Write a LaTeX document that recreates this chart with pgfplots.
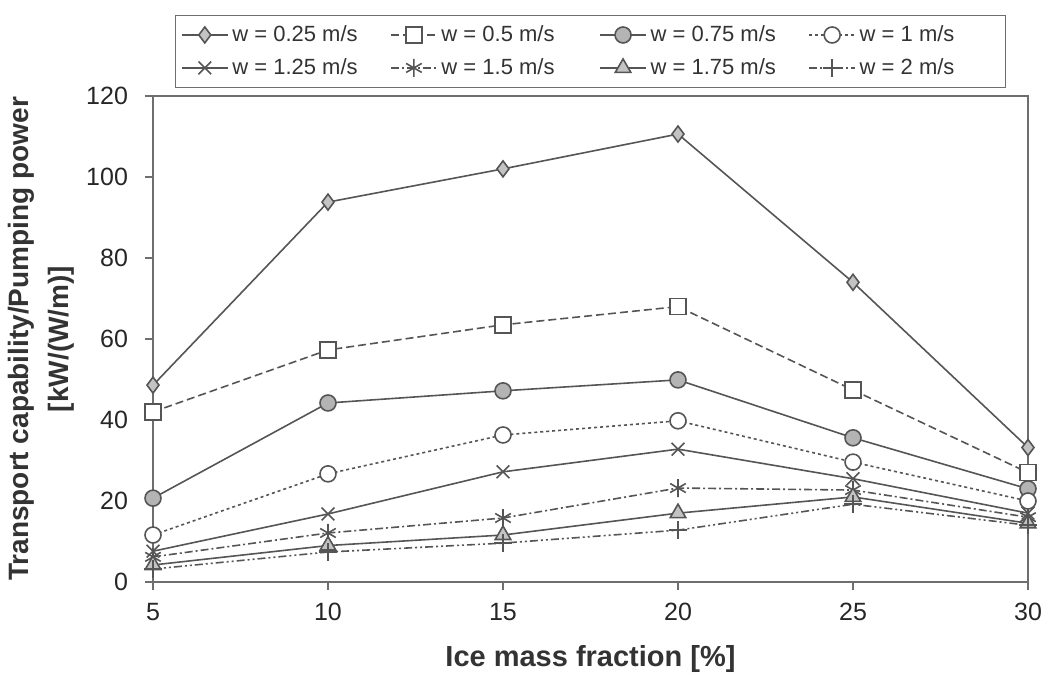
\documentclass[border=0pt]{standalone}
\usepackage{fontspec}
\setmainfont{Liberation Sans}
\usepackage{pgfplots}
\pgfplotsset{compat=1.18}
\definecolor{ln}{RGB}{85,85,85}
\definecolor{ax}{RGB}{110,110,110}
\definecolor{fillA}{RGB}{195,195,195}
\definecolor{fillB}{RGB}{180,180,180}
\begin{document}
\begin{tikzpicture}
\begin{axis}[
  scale only axis,
  width=437.5pt, height=243pt,
  xmin=5, xmax=30, ymin=0, ymax=120,
  xtick={5,10,15,20,25,30},
  ytick={0,20,40,60,80,100,120},
  tick align=outside,
  major tick length=4pt,
  tick style={color=ax, line width=0.8pt},
  axis line style={color=ax, line width=1pt},
  xtick pos=bottom, ytick pos=left,
  ticklabel style={font=\fontsize{12.5}{14}\selectfont, text=black!85},
  xticklabel style={yshift=-3pt},
  yticklabel style={xshift=-5pt},
  /pgf/number format/assume math mode=true,
  xlabel={Ice mass fraction [\%]},
  ylabel={Transport capability/Pumping power\\{}[kW/(W/m)]},
  xlabel style={font=\fontsize{14.5}{17}\selectfont\bfseries, text=black!80, at={(axis description cs:0.5,-0.13)}, anchor=north, inner sep=0pt},
  ylabel style={font=\fontsize{14}{20}\selectfont\bfseries, text=black!80, align=center, at={(axis description cs:-0.089,0.5)}, anchor=south, inner sep=0pt},
  every axis plot/.append style={color=ln, line width=0.8pt},
  legend columns=4,
  legend cell align=left,
  legend image code/.code={\draw[mark repeat=2,mark phase=2,#1] plot coordinates {(0cm,0cm) (0.4cm,0cm) (0.8cm,0cm)};},
  legend style={draw=ax, line width=0.6pt, fill=white, at={(axis description cs:0.5,1)}, anchor=south, yshift=4pt,
    font=\fontsize{11}{12}\selectfont, text=black!80, row sep=3pt, inner sep=3pt,
    /tikz/every even column/.append style={column sep=9pt},
    /tikz/every mark/.append style={scale=0.75}},
]
\addplot[solid, mark=diamond*, mark size=4pt, mark options={solid, fill=fillA, draw=ln}]
  coordinates {(5,48.6) (10,93.8) (15,102) (20,110.6) (25,74) (30,33.2)};
\addlegendentry{\makebox[68pt][l]{w = 0.25 m/s}}
\addplot[dash pattern=on 4pt off 2pt, mark=square*, mark size=4pt, mark options={solid, fill=white, draw=ln}]
  coordinates {(5,42) (10,57.3) (15,63.5) (20,68) (25,47.4) (30,27)};
\addlegendentry{\makebox[68pt][l]{w = 0.5 m/s}}
\addplot[solid, mark=*, mark size=4pt, mark options={solid, fill=fillB, draw=ln}]
  coordinates {(5,20.7) (10,44.2) (15,47.2) (20,49.9) (25,35.6) (30,23)};
\addlegendentry{\makebox[68pt][l]{w = 0.75 m/s}}
\addplot[dash pattern=on 1.5pt off 1.5pt, mark=*, mark size=4pt, mark options={solid, fill=white, draw=ln}]
  coordinates {(5,11.6) (10,26.7) (15,36.3) (20,39.8) (25,29.6) (30,20)};
\addlegendentry{\makebox[68pt][l]{w = 1 m/s}}
\addplot[solid, mark=x, mark size=4.5pt, mark options={solid, draw=ln}]
  coordinates {(5,7.6) (10,16.8) (15,27.2) (20,32.8) (25,25.5) (30,17)};
\addlegendentry{\makebox[68pt][l]{w = 1.25 m/s}}
\addplot[dash pattern=on 4pt off 1.5pt on 1pt off 1.5pt, mark=asterisk, mark size=4.5pt, mark options={solid, draw=ln}]
  coordinates {(5,6.2) (10,12.1) (15,15.8) (20,23.2) (25,22.7) (30,16)};
\addlegendentry{\makebox[68pt][l]{w = 1.5 m/s}}
\addplot[solid, mark=triangle*, mark size=4.5pt, mark options={solid, fill=fillA, draw=ln}]
  coordinates {(5,4.2) (10,9) (15,11.6) (20,17) (25,21) (30,14.5)};
\addlegendentry{\makebox[68pt][l]{w = 1.75 m/s}}
\addplot[dash pattern=on 4pt off 1.5pt on 1pt off 1.5pt on 1pt off 1.5pt, mark=+, mark size=4.5pt, mark options={solid, draw=ln}]
  coordinates {(5,3.2) (10,7.4) (15,9.6) (20,12.8) (25,19.2) (30,14)};
\addlegendentry{\makebox[68pt][l]{w = 2 m/s}}
\end{axis}
\path (current axis.south west) ++(-76.5pt,-51pt) rectangle ++(525pt,342pt);
\end{tikzpicture}
\end{document}
